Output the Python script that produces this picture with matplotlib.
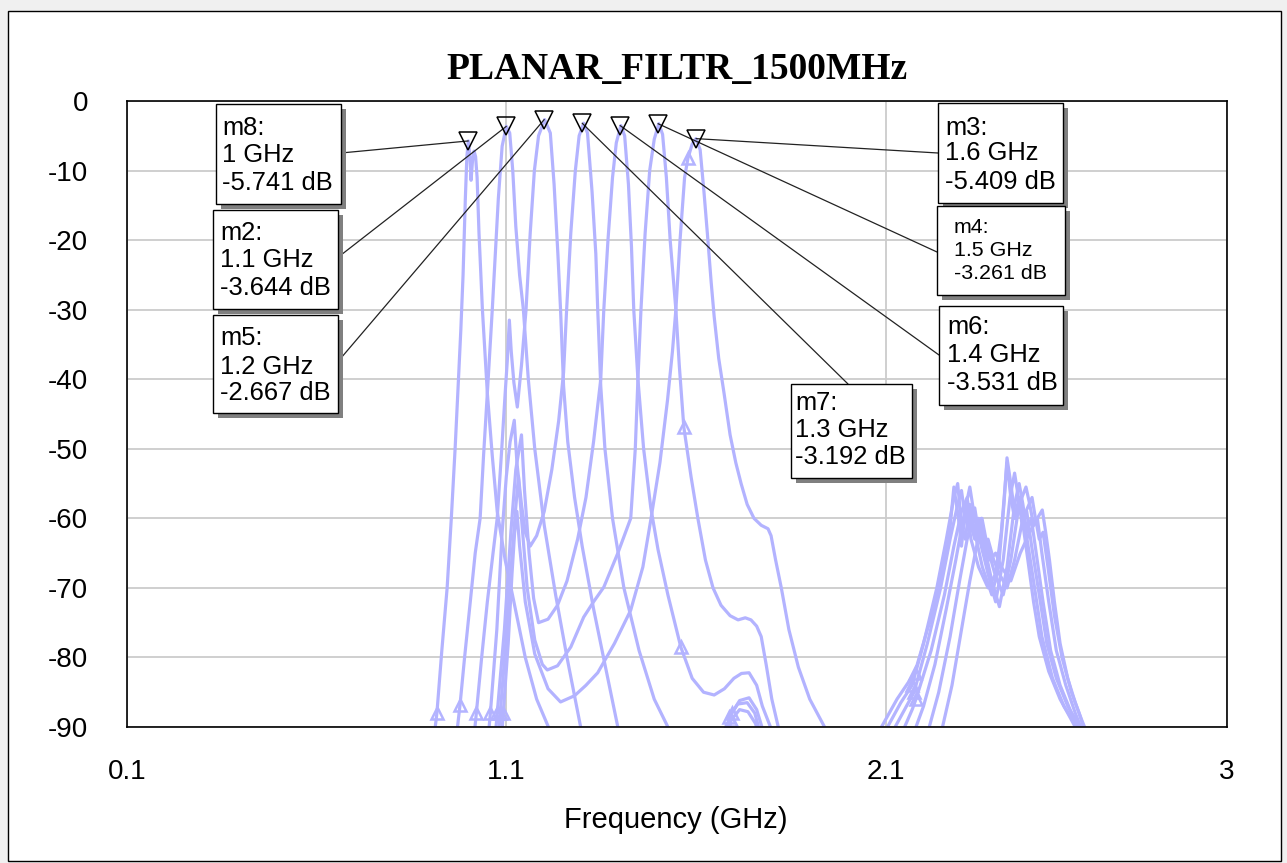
import matplotlib
matplotlib.use('Agg')
import matplotlib.pyplot as plt
from matplotlib.patches import Rectangle

plt.rcParams['font.family'] = ['Liberation Sans', 'DejaVu Sans']
plt.rcParams['axes.unicode_minus'] = False

W, H = 1287, 863

# ---- traces: (frequency GHz, dB) ----
curve_m8 = [(0.880, -105), (0.917, -88), (0.930, -79), (0.944, -70), (0.955, -60), (0.965, -50),
            (0.973, -41), (0.980, -33), (0.986, -25), (0.992, -14), (0.996, -8), (1.000, -5.741),
            (1.004, -8), (1.007, -11.4), (1.011, -8.5), (1.015, -7.2), (1.019, -8), (1.023, -11),
            (1.028, -19), (1.037, -30), (1.050, -42), (1.063, -51), (1.076, -59), (1.097, -66),
            (1.120, -72), (1.150, -80), (1.180, -86), (1.211, -90), (1.260, -100), (1.900, -105),
            (2.000, -105), (2.089, -90), (2.130, -86), (2.177, -82.2), (2.210, -76), (2.230, -72.7),
            (2.255, -66), (2.267, -63), (2.280, -55.5), (2.292, -60), (2.300, -64), (2.312, -58),
            (2.325, -63), (2.345, -67), (2.370, -70), (2.390, -68), (2.405, -62), (2.420, -52),
            (2.430, -57), (2.440, -60), (2.452, -57), (2.470, -64), (2.490, -72), (2.505, -77),
            (2.530, -82), (2.560, -86), (2.600, -90), (2.640, -98), (3.000, -110)]

curve_m2 = [(0.940, -105), (0.978, -86.8), (0.990, -80), (1.005, -72), (1.018, -65), (1.031, -60),
            (1.040, -51), (1.050, -42), (1.063, -30), (1.071, -22), (1.079, -14), (1.089, -6.5),
            (1.100, -3.644), (1.109, -4.6), (1.117, -10), (1.125, -18), (1.135, -25), (1.145, -30),
            (1.158, -40), (1.175, -50), (1.200, -61), (1.230, -71), (1.260, -80), (1.296, -90),
            (1.340, -100), (1.600, -102), (1.672, -94), (1.693, -89), (1.715, -87.5), (1.737, -87.8),
            (1.757, -89.5), (1.780, -94), (1.850, -105), (2.000, -105), (2.105, -90), (2.140, -86.5),
            (2.170, -84), (2.200, -78), (2.235, -70), (2.260, -63), (2.280, -57), (2.290, -55),
            (2.300, -61), (2.310, -63), (2.322, -58), (2.335, -62), (2.355, -67), (2.380, -71),
            (2.398, -67), (2.412, -58), (2.420, -51.3), (2.430, -55), (2.442, -60), (2.455, -58),
            (2.470, -62), (2.490, -69), (2.512, -77), (2.540, -83), (2.570, -87), (2.605, -90),
            (2.650, -98), (3.000, -110)]

curve_m5 = [(0.990, -105), (1.021, -88), (1.035, -80), (1.050, -72), (1.065, -65), (1.076, -60),
            (1.088, -50), (1.097, -42), (1.103, -37), (1.108, -31.5), (1.113, -36), (1.120, -40.5),
            (1.129, -44), (1.140, -38), (1.152, -30), (1.163, -19), (1.174, -10), (1.185, -5),
            (1.201, -2.667), (1.216, -4.6), (1.226, -12), (1.236, -22), (1.243, -30), (1.251, -41),
            (1.262, -49), (1.280, -57), (1.300, -64), (1.330, -73), (1.360, -81), (1.394, -90),
            (1.440, -100), (1.600, -102), (1.670, -94), (1.688, -88.5), (1.710, -86.7), (1.735, -86.5),
            (1.755, -88), (1.775, -92), (1.840, -105), (2.020, -105), (2.125, -90), (2.155, -87),
            (2.175, -85), (2.210, -78), (2.245, -70), (2.270, -63), (2.290, -58), (2.300, -56),
            (2.310, -60), (2.322, -62), (2.333, -59), (2.348, -63), (2.370, -68), (2.390, -72),
            (2.410, -66), (2.428, -57), (2.440, -53.5), (2.450, -57), (2.460, -61), (2.472, -59),
            (2.485, -64), (2.505, -71), (2.525, -78), (2.550, -83), (2.580, -87), (2.612, -90),
            (2.660, -98), (3.000, -110)]

curve_m7 = [(1.030, -105), (1.058, -88), (1.075, -76), (1.089, -62), (1.100, -54), (1.110, -49),
            (1.121, -45.9), (1.128, -52), (1.140, -58), (1.150, -62), (1.163, -64), (1.180, -62.5),
            (1.200, -59), (1.220, -53), (1.238, -46), (1.251, -39), (1.259, -30), (1.270, -19),
            (1.282, -10), (1.292, -5), (1.304, -3.192), (1.314, -4.6), (1.326, -13), (1.336, -22),
            (1.341, -30), (1.349, -41), (1.360, -50), (1.380, -60), (1.410, -70), (1.450, -79),
            (1.490, -86), (1.526, -90), (1.570, -100), (1.640, -100), (1.675, -92), (1.695, -88),
            (1.715, -86.2), (1.740, -85.8), (1.760, -87.5), (1.785, -92), (1.850, -105), (2.040, -105),
            (2.150, -90), (2.170, -87.5), (2.180, -86), (2.220, -79), (2.255, -71), (2.280, -64),
            (2.300, -59), (2.315, -57), (2.325, -61), (2.335, -63), (2.345, -60), (2.360, -64),
            (2.380, -69), (2.400, -72.7), (2.420, -67), (2.440, -58), (2.452, -55), (2.462, -58),
            (2.472, -62), (2.484, -60), (2.497, -65), (2.515, -72), (2.535, -79), (2.560, -84),
            (2.590, -88), (2.617, -90.5), (2.670, -98), (3.000, -110)]

curve_m6 = [(1.050, -105), (1.076, -88), (1.095, -76), (1.112, -62), (1.125, -53), (1.140, -48),
            (1.148, -56), (1.160, -65), (1.172, -71.5), (1.185, -75), (1.210, -74.5), (1.235, -72.5),
            (1.260, -69), (1.288, -63), (1.310, -57), (1.330, -49), (1.349, -40), (1.357, -30),
            (1.368, -20), (1.380, -11), (1.390, -6), (1.402, -3.531), (1.412, -5), (1.422, -12),
            (1.430, -21), (1.436, -30), (1.447, -40), (1.462, -50), (1.481, -58.5), (1.500, -64.5),
            (1.526, -71), (1.560, -78.5), (1.590, -83), (1.620, -85), (1.648, -85.4), (1.675, -84.5),
            (1.700, -83), (1.720, -82.3), (1.740, -82.2), (1.760, -84), (1.775, -87), (1.800, -90.5),
            (1.850, -98), (2.060, -105), (2.180, -90), (2.200, -87), (2.230, -81), (2.260, -73),
            (2.285, -66), (2.305, -60), (2.322, -55.5), (2.332, -59), (2.342, -62), (2.354, -60),
            (2.368, -64), (2.388, -68), (2.410, -71), (2.430, -66), (2.452, -58), (2.470, -55.5),
            (2.480, -58), (2.490, -61), (2.500, -60), (2.512, -65), (2.530, -72), (2.550, -79),
            (2.575, -84), (2.600, -88), (2.622, -91), (2.670, -98), (3.000, -110)]

curve_m4 = [(1.060, -105), (1.084, -88), (1.100, -77), (1.113, -67), (1.124, -59), (1.132, -54),
            (1.140, -60), (1.155, -70), (1.175, -77.5), (1.195, -81), (1.208, -81.8), (1.235, -81.2),
            (1.270, -78.5), (1.304, -74.2), (1.330, -72), (1.357, -69.9), (1.394, -65), (1.428, -60),
            (1.440, -50), (1.447, -40), (1.455, -30), (1.466, -19), (1.478, -10), (1.490, -5.5),
            (1.502, -3.261), (1.512, -4.8), (1.522, -11), (1.532, -20), (1.547, -30), (1.556, -38),
            (1.568, -46.9), (1.587, -54), (1.605, -60), (1.625, -66), (1.645, -70), (1.666, -72.5),
            (1.690, -74), (1.711, -74.6), (1.730, -74.3), (1.745, -74.6), (1.760, -75.5), (1.772, -77),
            (1.785, -81), (1.800, -86), (1.817, -90), (1.850, -100), (2.080, -105), (2.215, -90),
            (2.240, -85), (2.270, -77), (2.295, -69), (2.315, -63), (2.335, -58.5), (2.345, -62),
            (2.358, -65), (2.370, -63), (2.385, -66), (2.400, -68), (2.420, -70), (2.440, -66),
            (2.462, -60), (2.486, -57), (2.495, -60), (2.505, -63), (2.515, -62), (2.528, -67),
            (2.545, -74), (2.565, -80), (2.590, -85), (2.610, -88), (2.628, -91), (2.680, -98),
            (3.000, -110)]

curve_m3 = [(1.070, -105), (1.092, -88), (1.105, -78), (1.115, -68), (1.122, -62), (1.128, -59),
            (1.135, -64), (1.150, -72), (1.175, -79.5), (1.210, -84.5), (1.243, -86.4), (1.280, -85.5),
            (1.310, -84), (1.341, -82.2), (1.385, -78), (1.428, -73.2), (1.460, -67), (1.481, -60.2),
            (1.505, -52), (1.525, -43), (1.538, -36), (1.547, -30), (1.558, -20), (1.570, -11),
            (1.579, -8.2), (1.590, -6.2), (1.600, -5.409), (1.611, -7), (1.621, -13), (1.630, -19),
            (1.640, -26), (1.648, -31), (1.660, -37), (1.674, -42), (1.690, -48), (1.705, -52),
            (1.719, -55), (1.735, -58), (1.753, -60), (1.772, -61), (1.790, -61.5), (1.798, -62.5),
            (1.810, -66), (1.825, -70), (1.845, -76), (1.870, -81.4), (1.900, -86), (1.939, -90),
            (1.980, -96), (2.100, -105), (2.250, -90), (2.275, -84), (2.300, -76), (2.322, -69),
            (2.340, -64), (2.352, -60), (2.362, -63), (2.375, -66), (2.390, -65), (2.405, -67),
            (2.430, -69), (2.455, -65), (2.480, -62), (2.500, -60), (2.513, -58.8), (2.522, -62),
            (2.532, -66), (2.545, -72), (2.560, -78), (2.580, -83), (2.600, -86.5), (2.617, -89),
            (2.632, -91), (2.680, -98), (3.000, -110)]

# frequencies where the trace symbols (open triangles) sit
sym_m8 = [0.917, 2.177]
sym_m2 = [0.978, 1.693, 2.170]
sym_m5 = [1.021, 1.688, 2.175]
sym_m7 = [1.058, 1.695, 2.180]
sym_m6 = [1.076, 1.560]
sym_m4 = [1.084, 1.568]
sym_m3 = [1.092, 1.579]

# markers
marker_names = ['m8', 'm2', 'm5', 'm7', 'm6', 'm4', 'm3']
marker_freq = [1.0, 1.1, 1.2, 1.3, 1.4, 1.5, 1.6]
marker_db = [-5.741, -3.644, -2.667, -3.192, -3.531, -3.261, -5.409]

xticks = [0.1, 1.1, 2.1, 3]
xtick_labels = ['0.1', '1.1', '2.1', '3']
yticks = list(range(0, -100, -10))

TRACE = '#b3b3ff'

fig = plt.figure(figsize=(W / 100, H / 100), dpi=100)
fig.patch.set_facecolor('#f0f0f0')
fig.add_artist(Rectangle((8 / W, 1 - 861 / H), (1281 - 8) / W, (861 - 11) / H,
                         transform=fig.transFigure, facecolor='white',
                         edgecolor='black', lw=1, zorder=-1))

ax = fig.add_axes([127 / W, 1 - 727 / H, 1100 / W, 626 / H])
ax.set_xlim(0.1, 3)
ax.set_ylim(-90, 0)
ax.set_xticks(xticks, xtick_labels)
ax.set_yticks(yticks)
ax.grid(True, color='#cccccc', lw=1.3)
ax.set_axisbelow(True)
ax.tick_params(length=0, labelsize=20)
ax.tick_params(axis='y', pad=28)
ax.tick_params(axis='x', pad=23)
for s in ax.spines.values():
    s.set_color('black')
    s.set_linewidth(1.2)

curves = [(curve_m8, sym_m8), (curve_m2, sym_m2), (curve_m5, sym_m5), (curve_m7, sym_m7),
          (curve_m6, sym_m6), (curve_m4, sym_m4), (curve_m3, sym_m3)]
for pts, sym in curves:
    f = [p[0] for p in pts]
    v = [p[1] for p in pts]
    idx = [i for i, x in enumerate(f) if x in sym]
    ax.plot(f, v, color=TRACE, lw=2.3, marker='^', markevery=idx, ms=9,
            mfc='none', mec=TRACE, mew=1.8, zorder=2)

ax.plot(marker_freq, marker_db, 'v', ms=13, mfc='none', mec='black', mew=1.1, zorder=5)

# marker boxes: left, top, width, height (pixels), text x offset, row offsets, font size
boxes = {
    'm8': (216, 104, 125, 100, 6, (24, 51, 79), 18.4, (341, 153)),
    'm2': (213, 210, 125, 99, 7, (23, 50, 78), 18.4, (341, 255)),
    'm5': (213, 315, 125, 98, 7, (23, 52, 78), 18.4, (341, 358)),
    'm7': (791, 384, 121, 94, 4, (19, 46, 73), 18.4, (848, 384)),
    'm6': (939, 306, 124, 99, 8, (21, 49, 77), 18.4, (939, 355)),
    'm4': (937, 206, 128, 89, 17, (21, 44, 67), 15.4, (937, 252)),
    'm3': (938, 103, 125, 100, 7, (25, 50, 79), 18.4, (938, 153)),
}

for name, fq, db in zip(marker_names, marker_freq, marker_db):
    x, y, w, h, dx, rows, fs, anchor = boxes[name]
    ax.annotate('', xy=(fq, db), xycoords='data',
                xytext=(anchor[0], H - anchor[1]), textcoords='figure pixels',
                arrowprops=dict(arrowstyle='-', color='#222222', lw=0.9,
                                shrinkA=0, shrinkB=0), zorder=4)
    fig.add_artist(Rectangle(((x + 5) / W, 1 - (y + h + 5) / H), w / W, h / H,
                             transform=fig.transFigure, facecolor='#808080',
                             edgecolor='none', zorder=6))
    fig.add_artist(Rectangle((x / W, 1 - (y + h) / H), w / W, h / H,
                             transform=fig.transFigure, facecolor='white',
                             edgecolor='black', lw=1, zorder=7))
    lines = [name + ':', f'{fq:g} GHz', f'{db:.3f} dB']
    for r, s in zip(rows, lines):
        fig.text((x + dx) / W, 1 - (y + r) / H, s, ha='left', va='center',
                 fontsize=fs, zorder=8)

fig.text(677 / W, 1 - 70 / H, 'PLANAR_FILTR_1500MHz', ha='center', va='center',
         fontsize=27, fontweight='bold', family=['Liberation Serif', 'DejaVu Serif'])
fig.text(676 / W, 1 - 820 / H, 'Frequency (GHz)', ha='center', va='center', fontsize=21)

fig.savefig('out.png', dpi=100, facecolor=fig.get_facecolor())
